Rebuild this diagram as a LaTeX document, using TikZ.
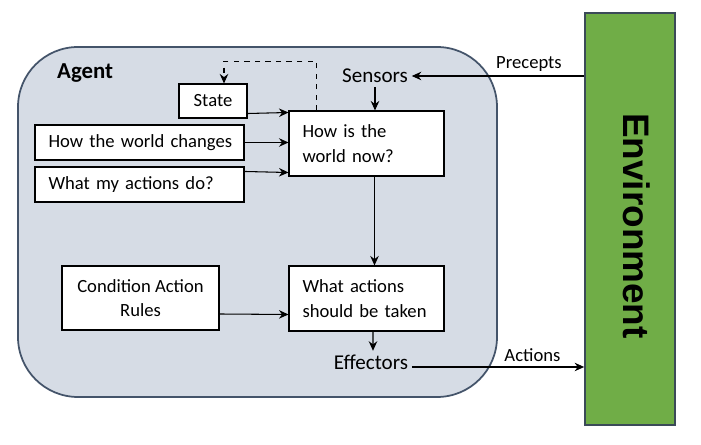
\documentclass[tikz,border=0pt]{standalone}
\usepackage{fontspec}
\setmainfont{Carlito}
\newfontfamily\envfont{Liberation Sans}
\usepackage{xcolor}
\usetikzlibrary{arrows.meta,positioning}
\definecolor{agentfill}{HTML}{D6DCE5}
\definecolor{agentline}{HTML}{44546A}
\definecolor{envfill}{HTML}{70AD47}
\definecolor{envline}{HTML}{3B4A58}
\newcommand{\ind}{\hspace*{0.27cm}}

\begin{document}
\begin{tikzpicture}[
  x=0.02cm, y=-0.02cm,
  every node/.style={font=\fontsize{10.6}{13.9}\selectfont},
  box/.style={draw, fill=white, line width=0.6pt, inner sep=0pt},
  leftbox/.style={box, align=left, text width=#1},
  lbl/.style={inner sep=2pt},
  port/.style={inner sep=2pt, font=\fontsize{12}{14}\selectfont},
  conn/.style={line width=0.6pt},
  >={Stealth[length=1.9mm,width=1.7mm]}
]
  \useasboundingbox (0,0) rectangle (701,445);

  % agent and environment
  \draw[agentline, fill=agentfill, line width=1pt, rounded corners=1.2cm] (18,47) rectangle (497,397);
  \node[anchor=west, font=\fontsize{13}{15}\selectfont\bfseries] (agent) at (51,73) {Agent};
  \node[draw=envline, fill=envfill, line width=1pt, minimum width=1.8cm, minimum height=8.24cm,
        inner sep=0pt] (env) at (630,219) {};
  \node[rotate=-90, font=\envfont\fontsize{21}{24}\selectfont\bfseries] (envlab) at (637,226) {Environment};

  % boxes
  \node[box, minimum width=1.36cm, minimum height=0.68cm] (state) at (213,101) {State};
  \node[leftbox=4.18cm, minimum height=0.7cm] (changes) at (139.5,142.5) {\ind How the world changes};
  \node[leftbox=4.18cm, minimum height=0.7cm] (actdo) at (139.5,184.5) {\ind What my actions do?};
  \node[leftbox=3.1cm, minimum height=1.3cm] (now) at (366.5,143.5) {\ind How is the\\\ind world now?};
  \node[box, align=center, minimum width=3.14cm, minimum height=1.28cm] (rules) at (140.5,298) {Condition Action\\Rules};
  \node[leftbox=3.1cm, minimum height=1.3cm] (take) at (366.5,298.5) {\ind What actions\\\ind should be taken};

  \node[port] (sensors) at (375,76) {Sensors};
  \node[port] (eff) at (371,362) {Effectors};

  % connectors
  \draw[conn,->] (env.west |- sensors.east) -- node[pos=0.32, above=0.5pt, lbl] (precepts) {Precepts} (sensors.east);
  \draw[conn,->] (sensors.south) -- (sensors.south |- now.north);
  \draw[conn,->, dashed] ([xshift=-1cm]now.north) -- ++(0,0.98cm) -| ([xshift=0.22cm]state.north);
  \draw[conn,->] ([yshift=0.1cm]state.south east) -- ([yshift=-0.04cm]now.north west);
  \draw[conn,->] (changes.east) -- (now.west |- changes.east);
  \draw[conn,->] ([yshift=-0.1cm]actdo.north east) -- ([yshift=0.08cm]now.south west);
  \draw[conn,->] ([xshift=0.16cm]now.south) -- ([xshift=0.16cm]take.north);
  \draw[conn,->] ([yshift=-0.32cm]rules.east) -- ([yshift=-0.32cm]take.west);
  \draw[conn,->] ([xshift=0.13cm]take.south) -- ([xshift=0.04cm]eff.north);
  \draw[conn,->] ([yshift=-0.1cm]eff.east) coordinate (effout) -- node[pos=0.7, above=1pt, lbl] (actions) {Actions} (env.west |- effout);
\end{tikzpicture}
\end{document}
